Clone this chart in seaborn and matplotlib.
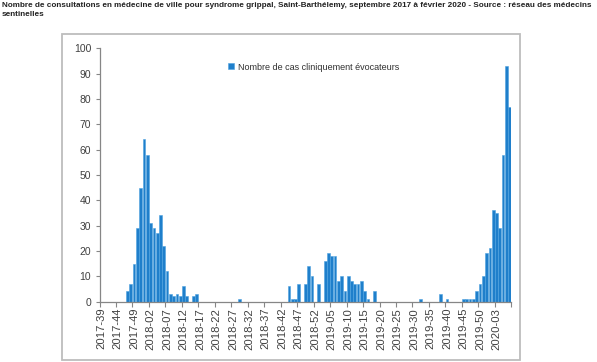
import matplotlib
matplotlib.use("Agg")
import matplotlib.pyplot as plt
from matplotlib.patches import Rectangle
import numpy as np
import pandas as pd
import seaborn as sns

# ISO weeks covered: 2017-39 .. 2020-07
week_years = [2017] * 14 + [2018] * 52 + [2019] * 52 + [2020] * 7
week_numbers = list(range(39, 53)) + list(range(1, 53)) + list(range(1, 53)) + list(range(1, 8))
weeks = [f"{y}-{w:02d}" for y, w in zip(week_years, week_numbers)]

# Weekly counts of clinically suggestive cases
cases = [
    0, 0, 0, 0, 0, 0, 0, 0, 4, 7,          # 2017-39 .. 2017-48
    15, 29, 45, 64, 58, 31, 29, 27, 34, 22,  # 2017-49 .. 2018-06
    12, 3, 2, 3, 2, 6, 2, 0, 2, 3,           # 2018-07 .. 2018-16
    0, 0, 0, 0, 0, 0, 0, 0, 0, 0,            # 2018-17 .. 2018-26
    0, 0, 1, 0, 0, 0, 0, 0, 0, 0,            # 2018-27 .. 2018-36
    0, 0, 0, 0, 0, 0, 0, 6, 1, 1,            # 2018-37 .. 2018-46
    7, 0, 7, 14, 10, 0, 7, 0, 16, 19,        # 2018-47 .. 2019-04
    18, 18, 8, 10, 4, 10, 8, 7, 7, 8,        # 2019-05 .. 2019-14
    4, 1, 0, 4, 0, 0, 0, 0, 0, 0,            # 2019-15 .. 2019-24
    0, 0, 0, 0, 0, 0, 0, 1, 0, 0,            # 2019-25 .. 2019-34
    0, 0, 0, 3, 0, 1, 0, 0, 0, 0,            # 2019-35 .. 2019-44
    1, 1, 1, 1, 4, 7, 10, 19, 21, 36,        # 2019-45 .. 2020-02
    35, 29, 58, 93, 77,                      # 2020-03 .. 2020-07
]

y_ticks = list(range(0, 101, 10))
series_label = "Nombre de cas cliniquement évocateurs"
title_text = ("Nombre de consultations en médecine de ville pour syndrome grippal, "
              "Saint-Barthélemy, septembre 2017 à février 2020 - Source : réseau des médecins\n"
              "sentinelles")

df = pd.DataFrame({"semaine": weeks, "cas": cases})

sns.set_theme(style="white")
plt.rcParams["font.family"] = ["Liberation Sans", "DejaVu Sans"]

W, H = 597, 362
fig = plt.figure(figsize=(W / 100, H / 100), dpi=100)

# axes placed in pixel terms
x_left, x_right, y_top, y_bottom = 99.5, 511.3, 48.3, 301.5
ax = fig.add_axes([x_left / W, 1 - y_bottom / H, (x_right - x_left) / W, (y_bottom - y_top) / H])

sns.barplot(data=df, x="semaine", y="cas", color="#1F7FCB", width=0.82,
            saturation=1, edgecolor="#4FA3E0", linewidth=0.4, label=series_label, ax=ax)

n = len(weeks)
ax.set_xlim(-0.5, n - 0.5)
ax.set_ylim(0, 100)
ax.set_xlabel("")
ax.set_ylabel("")

axis_grey = "#868686"
text_grey = "#404040"
for side in ("top", "right"):
    ax.spines[side].set_visible(False)
for side in ("left", "bottom"):
    ax.spines[side].set_color(axis_grey)
    ax.spines[side].set_linewidth(0.9)

ax.set_yticks(y_ticks)
ax.set_yticklabels([str(v) for v in y_ticks], fontsize=7.5, color=text_grey)
ax.tick_params(axis="y", which="major", direction="out", length=3, width=0.8,
               color=axis_grey, pad=3, left=True)

label_pos = list(range(0, n, 5))
ax.set_xticks(label_pos)
ax.set_xticklabels([weeks[i] for i in label_pos], rotation=90, fontsize=8.1, color=text_grey)
ax.set_xticks(np.arange(-0.5, n, 5), minor=True)
ax.tick_params(axis="x", which="major", length=0, pad=4.5, bottom=True)
ax.tick_params(axis="x", which="minor", direction="out", length=3.5, width=0.8,
               color=axis_grey, bottom=True)

leg = ax.legend(loc="center left", bbox_to_anchor=(0.302, 0.926), frameon=False,
                handlelength=0.6, handleheight=0.6, handletextpad=0.45, borderpad=0,
                prop={"size": 6.5})
for t in leg.get_texts():
    t.set_color("#303030")

# chart area border
fig.patches.append(Rectangle((62 / W, 1 - 360 / H), (520 - 62) / W, (360 - 34) / H,
                             transform=fig.transFigure, fill=False,
                             edgecolor="#BDBDBD", linewidth=1.3))

fig.text(2 / W, 1 - 2 / H, title_text, ha="left", va="top", fontsize=5.85,
         fontweight="bold", color="#222222", linespacing=1.3,
         family=["Liberation Sans", "DejaVu Sans"])

fig.savefig("out.png", dpi=100)
